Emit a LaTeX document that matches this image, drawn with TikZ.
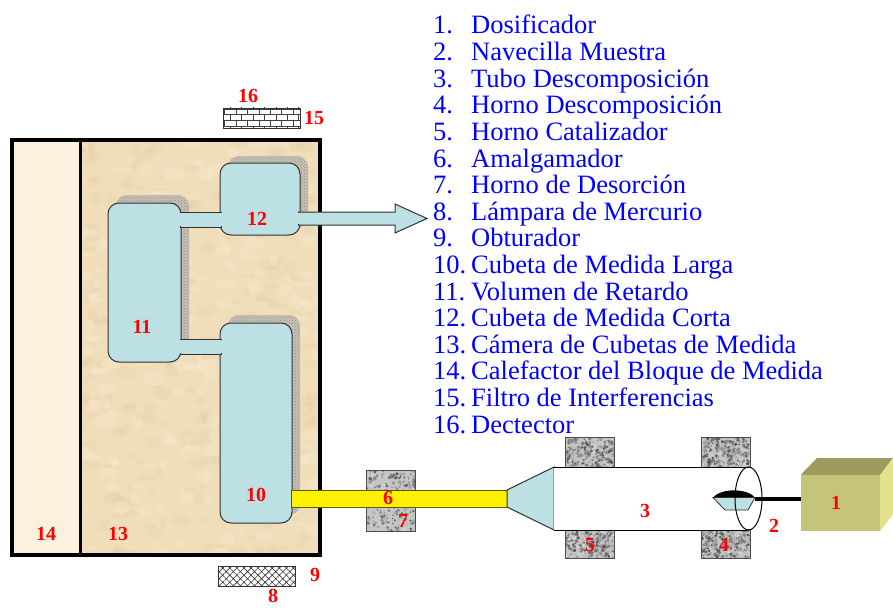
\documentclass[tikz,border=0pt]{standalone}
\usepackage{fontspec}
\setmainfont{Liberation Serif}
\usetikzlibrary{patterns,patterns.meta,calc}

\definecolor{cell}{RGB}{188,224,228}
\definecolor{chamber}{RGB}{240,222,186}
\definecolor{chamberdark}{RGB}{214,192,150}
\definecolor{chamberlight}{RGB}{250,238,212}
\definecolor{heater}{RGB}{251,241,222}
\definecolor{legendblue}{RGB}{0,0,255}
\definecolor{olivefront}{RGB}{196,196,122}
\definecolor{olivetop}{RGB}{156,154,94}
\definecolor{oliveside}{RGB}{226,226,142}
\definecolor{gritbase}{RGB}{200,192,178}
\definecolor{barline}{RGB}{90,90,0}

\tikzset{
  tag/.style={text=red, font=\bfseries\fontsize{20}{20}\selectfont, inner sep=0pt},
  legend/.style={text=legendblue, font=\fontsize{26.5}{26.5}\selectfont, inner sep=0pt},
  cellbox/.style={draw=black!80, line width=1pt, fill=cell, rounded corners=11pt, inner sep=0pt},
  grit/.style={preaction={fill=gritbase}, pattern=crosshatch dots, pattern color=gray!90,
               rounded corners=11pt, inner sep=0pt},
  granite/.style={fill=gray!45, inner sep=0pt},
  pipe/.style={draw=black!80, line width=1pt, fill=cell},
}

% speckled granite surface for a furnace block node: #1 name, #2 width, #3 height
\newcommand\granitetexture[3]{%
  \begin{scope}
    \clip (#1.south west) rectangle (#1.north east);
    \foreach \k in {1,...,300} {
      \pgfmathsetmacro\shade{int(15+55*rnd)}
      \fill[black!\shade] ($(#1.north west)+({#2*rnd},{#3*rnd})$) circle ({0.7+1.3*rnd});
    }
  \end{scope}
  \draw[black!70, line width=0.8pt] (#1.south west) rectangle (#1.north east);
}

\begin{document}
\begin{tikzpicture}[x=1pt, y=-1pt]
\pgfmathsetseed{4242}
\useasboundingbox (0,0) rectangle (893,607);

% measuring block: heater strip and cell chamber
\fill[heater] (12,140) rectangle (80,555);
\fill[chamber] (80,140) rectangle (320,555);
\begin{scope}
  \clip (80,140) rectangle (320,555);
  \foreach \k in {1,...,300} {
    \fill[chamberdark, opacity=0.12] ({80+240*rnd},{140+415*rnd}) ellipse [x radius={3+8*rnd}, y radius={2+5*rnd}];
  }
  \foreach \k in {1,...,220} {
    \fill[chamberlight, opacity=0.3] ({80+240*rnd},{140+415*rnd}) ellipse [x radius={3+8*rnd}, y radius={2+5*rnd}];
  }
\end{scope}

% speckled shadows behind the cells
\node[grit, minimum width=73pt, minimum height=159pt] (s11) at (152.5,274.5) {};
\node[grit, minimum width=80pt, minimum height=72pt] (s12) at (268,192) {};
\node[grit, minimum width=72pt, minimum height=200pt] (s10) at (264,415) {};

% block outline and divider
\draw[line width=4pt] (12,140) rectangle (320,555);
\draw[line width=3pt] (80,140) -- (80,555);

% cells
\node[cellbox, minimum width=73pt, minimum height=159pt] (c11) at (144.5,282.5) {};
\node[cellbox, minimum width=80pt, minimum height=72pt] (c12) at (260,199) {};
\node[cellbox, minimum width=72pt, minimum height=200pt] (c10) at (256,423) {};

% connecting pipes between the cells
\filldraw[pipe] ($(c11.east |- 0,212)+(-1.5,0)$) rectangle ($(c12.west |- 0,227)+(1.5,0)$);
\filldraw[pipe] ($(c11.east |- 0,339)+(-1.5,0)$) rectangle ($(c10.west |- 0,354)+(1.5,0)$);
\fill[cell] ($(c11.east |- 0,213)+(-2,0)$) rectangle ($(c11.east |- 0,226)+(1,0)$);
\fill[cell] ($(c12.west |- 0,213)+(-1,0)$) rectangle ($(c12.west |- 0,226)+(2,0)$);
\fill[cell] ($(c11.east |- 0,340)+(-2,0)$) rectangle ($(c11.east |- 0,353)+(1,0)$);
\fill[cell] ($(c10.west |- 0,340)+(-1,0)$) rectangle ($(c10.west |- 0,353)+(2,0)$);

% outlet arrow from the short cell
\coordinate (tip) at (427,218.5);
\filldraw[pipe] ($(c12.east |- 0,212)+(-2,0)$) -- (395,212) -- (395,204) -- (tip)
  -- (395,233) -- (395,225) -- ($(c12.east |- 0,225)+(-2,0)$) -- cycle;
\fill[cell] ($(c12.east |- 0,213)+(-3,0)$) rectangle ($(c12.east |- 0,224)+(1,0)$);

% desorption furnace and amalgamator
\node[granite, minimum width=48pt, minimum height=60pt] (f7) at (391,501) {};
\granitetexture{f7}{48}{60}
\coordinate (amalA) at (c10.east |- 0,490);
\coordinate (amalB) at (507,507);
\filldraw[fill=yellow, draw=barline, line width=1pt] ($(amalA)+(-1,0)$) rectangle (amalB);

% decomposition and catalyst furnaces
\node[granite, minimum width=48pt, minimum height=29pt] (f5a) at (590,452.5) {};
\node[granite, minimum width=48pt, minimum height=28pt] (f5b) at (590,544) {};
\node[granite, minimum width=48pt, minimum height=29pt] (f4a) at (726,452.5) {};
\node[granite, minimum width=48pt, minimum height=28pt] (f4b) at (726,544) {};
\granitetexture{f5a}{48}{29}
\granitetexture{f5b}{48}{28}
\granitetexture{f4a}{48}{29}
\granitetexture{f4b}{48}{28}

% funnel and decomposition tube
\filldraw[pipe] (amalB |- 0,490) -- (554,467) -- (554,530) -- (amalB) -- cycle;
\fill[white] (554,467) rectangle (748,530);
\draw[line width=1pt] (554,467) -- (748,467);
\draw[line width=1pt] (554,530) -- (748,530);

% dispenser with push rod and sample boat
\node[fill=olivefront, minimum width=79pt, minimum height=56pt, inner sep=0pt] (d1) at (840.5,503) {};
\fill[olivetop] (d1.north west) -- (817,458) -- (893,458) -- (d1.north east) -- cycle;
\fill[oliveside] (d1.north east) -- (893,458) -- (893,514) -- (d1.south east) -- cycle;
\draw[line width=4pt] (755,499) -- (d1.west |- 0,499);
\fill[black] (713,497.5) .. controls (721,488) and (747,488) .. (755,497.5) -- cycle;
\filldraw[fill=cell, draw=black!80, line width=0.8pt] (713,497.5) -- (755,497.5) -- (748,510) -- (725,510) -- cycle;
\draw[line width=1pt] (748.5,498.5) ellipse [x radius=13.5, y radius=31.5];

% interference filter and shutter
\node[draw=black!80, line width=0.8pt, pattern=bricks, pattern color=black!75,
      minimum width=77pt, minimum height=20pt, inner sep=0pt] (f15) at (261.5,118) {};
\node[draw=black!80, line width=0.8pt,
      pattern={Hatch[angle=45, distance=5pt, line width=0.6pt]}, pattern color=black!80,
      minimum width=77pt, minimum height=20pt, inner sep=0pt] (s9) at (256.5,576) {};

% part numbers
\node[tag] (t1) at (836,503) {1};
\node[tag] (t2) at (774,526) {2};
\node[tag] (t3) at (645,511) {3};
\node[tag] (t4) at (724,545) {4};
\node[tag] (t5) at (590,545) {5};
\node[tag] (t6) at (388,498) {6};
\node[tag] (t7) at (403,521) {7};
\node[tag] (t8) at (273,596) {8};
\node[tag] (t9) at (315,575) {9};
\node[tag] (t10) at (256,495) {10};
\node[tag] (t11) at (142,327) {11};
\node[tag] (t12) at (257,219) {12};
\node[tag] (t13) at (118,534) {13};
\node[tag] (t14) at (46,534) {14};
\node[tag] (t15) at (314,118) {15};
\node[tag] (t16) at (248,96) {16};

% legend
\foreach \n/\t [count=\i] in {
  1./Dosificador, 2./Navecilla Muestra, 3./Tubo Descomposición,
  4./Horno Descomposición, 5./Horno Catalizador, 6./Amalgamador,
  7./Horno de Desorción, 8./Lámpara de Mercurio, 9./Obturador,
  10./Cubeta de Medida Larga, 11./Volumen de Retardo,
  12./Cubeta de Medida Corta, 13./Cámera de Cubetas de Medida,
  14./Calefactor del Bloque de Medida, 15./Filtro de Interferencias,
  16./Dectector} {
  \node[legend, anchor=base west] (num\i) at (433,{34+26.6*(\i-1)}) {\n};
  \node[legend, anchor=base west] (item\i) at (471,{34+26.6*(\i-1)}) {\t};
}
\end{tikzpicture}
\end{document}
